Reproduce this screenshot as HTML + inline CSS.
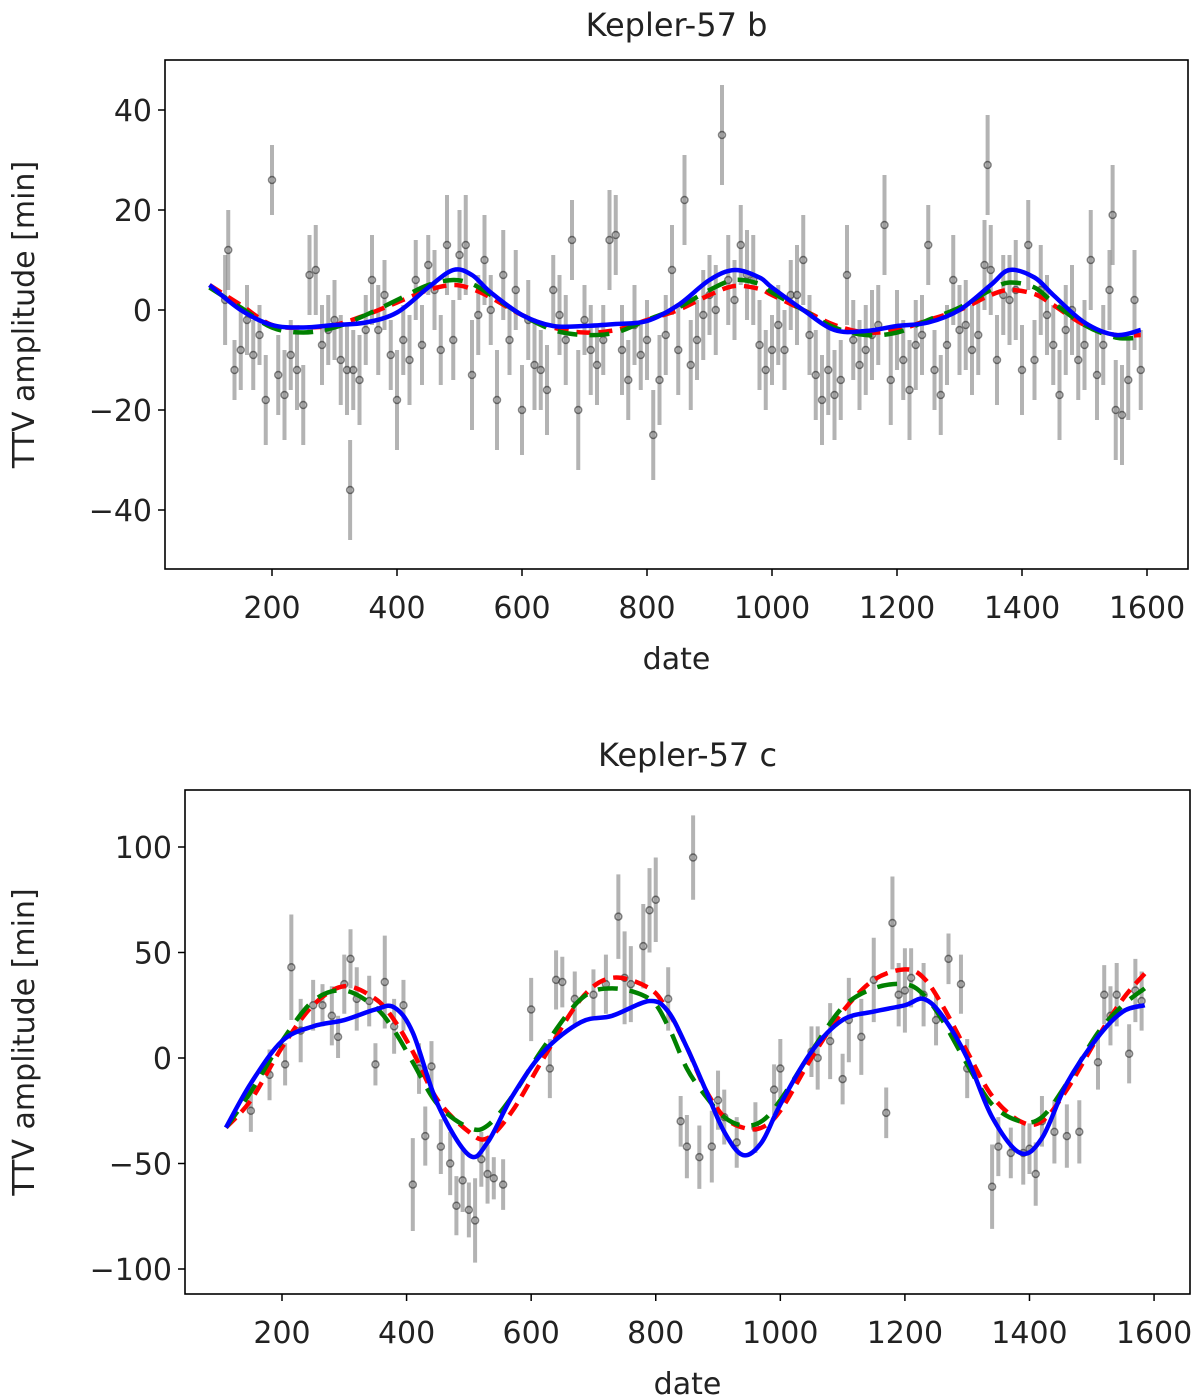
<!DOCTYPE html>
<html><head><meta charset="utf-8">
<style>
html,body{margin:0;padding:0;background:#fff;}
svg{display:block;font-family:"DejaVu Sans","Liberation Sans",sans-serif;}
</style></head>
<body>
<svg id="fig" width="1200" height="1399" viewBox="0 0 1200 1399" xmlns="http://www.w3.org/2000/svg"></svg>
<script>
// ---------- Kepler-57 b data ----------
const bDates = [125,130,140,150,160,170,180,190,200,210,220,230,240,250,260,270,280,290,300,310,320,325,330,340,350,360,370,380,390,400,410,420,430,440,450,460,470,480,490,500,510,520,530,540,550,560,570,580,590,600,610,620,630,640,650,660,670,680,690,700,710,720,730,740,750,760,770,780,790,800,810,820,830,840,850,860,870,880,890,900,910,920,930,940,950,960,970,980,990,1000,1010,1020,1030,1040,1050,1060,1070,1080,1090,1100,1110,1120,1130,1140,1150,1160,1170,1180,1190,1200,1210,1220,1230,1240,1250,1260,1270,1280,1290,1300,1310,1320,1330,1340,1345,1350,1360,1370,1380,1390,1400,1410,1420,1430,1440,1450,1460,1470,1480,1490,1500,1510,1520,1530,1540,1545,1550,1560,1570,1580,1590];
const bTTV = [2,12,-12,-8,-2,-9,-5,-18,26,-13,-17,-9,-12,-19,7,8,-7,-4,-2,-10,-12,-36,-12,-14,-4,6,-4,3,-9,-18,-6,-10,6,-7,9,4,-8,13,-6,11,13,-13,-1,10,0,-18,7,-6,4,-20,-2,-11,-12,-16,4,-1,-6,14,-20,-2,-8,-11,-6,14,15,-8,-14,-3,-9,-6,-25,-14,-5,8,-8,22,-11,-6,-1,3,0,35,6,2,13,7,6,-7,-12,-8,-3,-8,3,3,10,-5,-13,-18,-12,-17,-14,7,-6,-11,-8,-5,-3,17,-14,-4,-10,-16,-7,-5,13,-12,-17,-7,6,-4,-3,-8,-5,9,29,8,-10,3,2,4,-12,13,-10,4,-1,-7,-17,-4,0,-10,-7,10,-13,-7,4,19,-20,-21,-14,2,-12];
const bErr = [9,8,6,8,7,7,6,9,7,8,9,7,8,8,8,9,8,7,8,9,9,10,8,9,7,9,9,7,7,10,7,9,8,8,6,8,7,10,8,9,10,11,8,9,7,10,9,7,8,9,8,9,8,9,7,8,9,8,12,7,9,8,7,10,8,9,8,8,7,8,9,9,8,9,9,9,9,8,9,8,9,10,9,8,8,9,9,9,8,7,8,8,7,10,9,8,9,9,9,9,8,10,8,9,9,9,8,10,9,8,8,10,9,8,8,8,8,8,9,9,9,9,8,9,10,9,9,8,9,10,9,9,8,9,8,8,9,9,9,8,9,10,9,8,8,10,10,10,8,10,8];
const bModelDates = [100,150,200,250,300,350,400,450,490,520,550,600,650,700,750,800,850,900,940,980,1000,1050,1100,1150,1200,1250,1300,1350,1380,1420,1450,1500,1550,1590];
const bBlue  = [5,0,-3,-3.5,-3,-2.5,-0.5,4.5,8,7,3.5,-1,-3.2,-3.2,-2.8,-2.2,1,6,8,6.5,4.5,0,-4,-4.2,-3.2,-2.5,0,5,8,6.5,3,-2.5,-5,-4];
const bRed   = [5,1,-3,-3.5,-3,-1,1.5,4,5,4.2,2.5,-1,-3.5,-4.5,-4,-2,0,3,4.8,4.2,3,0,-3,-4.5,-4,-2,0,3,4,3.2,1,-3,-5,-5];
const bGreen = [4.5,0.5,-3.5,-4.5,-3.5,-1,2,5,6,5.2,3,-1,-4,-5,-4.5,-2,0.5,4,6,5.2,3.5,0,-3.5,-5,-4.5,-2,0.5,4,5.5,4.5,1.5,-3,-5.5,-5.5];
const bXTicks = [200,400,600,800,1000,1200,1400,1600];
const bYTicks = [40,20,0,-20,-40];

// ---------- Kepler-57 c data ----------
const cDates = [150,180,205,215,230,250,265,280,290,300,310,320,340,350,365,380,395,410,420,430,440,455,470,480,490,500,510,520,530,540,555,600,630,640,650,670,700,720,740,750,760,780,790,800,820,840,850,860,870,890,900,910,930,960,990,1000,1050,1060,1080,1100,1110,1130,1150,1170,1180,1190,1200,1210,1230,1250,1270,1290,1300,1340,1350,1370,1390,1400,1410,1420,1440,1460,1480,1510,1520,1530,1540,1560,1570,1580];
const cTTV = [-25,-8,-3,43,13,25,25,20,10,35,47,28,27,-3,36,15,25,-60,-5,-37,-4,-42,-50,-70,-58,-72,-77,-48,-55,-57,-60,23,-5,37,36,28,30,35,67,38,35,53,70,75,28,-30,-42,95,-47,-42,-20,-28,-40,-33,-15,-5,3,0,8,-10,18,10,37,-26,64,30,32,38,30,18,47,35,-5,-61,-42,-45,-45,-43,-55,-30,-35,-37,-35,-2,30,20,30,2,32,27];
const cErr = [10,12,10,25,15,12,10,14,10,14,14,15,12,10,22,13,12,22,12,14,12,13,15,14,15,13,20,13,14,10,12,15,14,14,12,13,12,14,20,22,18,20,20,20,15,12,15,20,15,17,14,13,12,12,12,14,12,15,18,12,20,18,20,12,22,15,20,14,15,12,12,14,14,20,14,12,15,12,15,12,15,15,15,13,14,14,15,14,15,14];
const cModelDates = [110,150,200,250,300,350,380,410,450,500,530,570,620,680,730,790,820,850,880,910,940,970,1000,1050,1100,1150,1200,1230,1260,1300,1340,1385,1420,1460,1510,1550,1585];
const cBlue  = [-33,-12,8,15,18,23,24,12,-22,-46,-40,-18,3,17,20,27,22,5,-15,-35,-46,-40,-22,3,18,22,25,28,20,0,-28,-45,-38,-12,10,22,25];
const cRed   = [-33,-20,5,25,34,28,18,3,-20,-35,-38,-25,0,28,38,33,22,5,-15,-28,-33,-33,-25,0,22,37,42,38,25,3,-18,-30,-30,-15,10,28,40];
const cGreen = [-33,-16,8,27,32,24,13,-2,-22,-33,-32,-18,5,28,33,28,15,-5,-18,-28,-32,-30,-20,3,24,33,35,30,18,-3,-22,-30,-28,-12,12,25,33];
const cXTicks = [200,400,600,800,1000,1200,1400,1600];
const cYTicks = [100,50,0,-50,-100];

const NS = "http://www.w3.org/2000/svg";
const fig = document.getElementById('fig');
function mk(tag, attrs, parent){ const e=document.createElementNS(NS,tag); for(const k in attrs) e.setAttribute(k,attrs[k]); (parent||fig).appendChild(e); return e; }

function smoothPath(pts){
  let d = `M${pts[0][0]},${pts[0][1]}`;
  for(let i=0;i<pts.length-1;i++){
    const p0=pts[Math.max(0,i-1)], p1=pts[i], p2=pts[i+1], p3=pts[Math.min(pts.length-1,i+2)];
    const c1x=p1[0]+(p2[0]-p0[0])/6, c1y=p1[1]+(p2[1]-p0[1])/6;
    const c2x=p2[0]-(p3[0]-p1[0])/6, c2y=p2[1]-(p3[1]-p1[1])/6;
    d += ` C${c1x},${c1y} ${c2x},${c2y} ${p2[0]},${p2[1]}`;
  }
  return d;
}

function panel(cfg){
  const g = mk('g',{});
  
  
  const X = d => cfg.xRef + (d - 200) * cfg.xk;
  const Y = v => cfg.yZero - v * cfg.yk;
  const clip = mk('clipPath',{id:cfg.name+'-clip'}, g);
  mk('rect',{x:cfg.L,y:cfg.T,width:cfg.R-cfg.L,height:cfg.B-cfg.T}, clip);
  const plot = mk('g',{'clip-path':`url(#${cfg.name}-clip)`}, g);
  for(let i=0;i<cfg.dates.length;i++){
    const x=X(cfg.dates[i]);
    const eb = mk('line',{x1:x,x2:x,y1:Y(cfg.vals[i]-cfg.errs[i]),y2:Y(cfg.vals[i]+cfg.errs[i]),stroke:'rgba(128,128,128,0.6)','stroke-width':4}, plot);
    
    
  }
  for(let i=0;i<cfg.dates.length;i++){
    const c = mk('circle',{cx:X(cfg.dates[i]),cy:Y(cfg.vals[i]),r:3.5,fill:'rgba(128,128,128,0.4)',stroke:'rgba(0,0,0,0.45)','stroke-width':1.5}, plot);
    
    
  }
  const curves = [
    [cfg.red,'#ff0000','14 8','model-red'],
    [cfg.green,'#008000','20 12','model-green'],
    [cfg.blue,'#0000ff','none','model-blue']];
  for(const [vals,col,dash,nm] of curves){
    const pts = cfg.mdates.map((d,i)=>[X(d),Y(vals[i])]);
    const p = mk('path',{d:smoothPath(pts),fill:'none',stroke:col,'stroke-width':4.5,'stroke-dasharray':dash}, plot);
    
    
  }
  const frame = mk('rect',{x:cfg.L,y:cfg.T,width:cfg.R-cfg.L,height:cfg.B-cfg.T,fill:'none',stroke:'#000','stroke-width':1.6}, g);
  
  
  for(const t of cfg.xt){
    const x=X(t);
    mk('line',{x1:x,x2:x,y1:cfg.B,y2:cfg.B+7,stroke:'#000','stroke-width':1.5}, g);
    const tx = mk('text',{x:x,y:cfg.B+49,'text-anchor':'middle','font-size':30,fill:'#222'}, g);
    tx.textContent = t;
    
    
  }
  for(const t of cfg.yt){
    const y=Y(t);
    mk('line',{x1:cfg.L-7,x2:cfg.L,y1:y,y2:y,stroke:'#000','stroke-width':1.5}, g);
    const tx = mk('text',{x:cfg.L-13,y:y+11,'text-anchor':'end','font-size':30,fill:'#222'}, g);
    tx.textContent = t < 0 ? '\u2212' + Math.abs(t) : t;
    
    
  }
  const title = mk('text',{x:(cfg.L+cfg.R)/2,y:cfg.T-24,'text-anchor':'middle','font-size':32,fill:'#222'}, g);
  title.textContent = cfg.title;
  
  
  const xl = mk('text',{x:(cfg.L+cfg.R)/2,y:cfg.B+100,'text-anchor':'middle','font-size':30,fill:'#222'}, g);
  xl.textContent = 'date';
  
  
  const yc=(cfg.T+cfg.B)/2;
  const yl = mk('text',{x:34,y:yc,'text-anchor':'middle','font-size':30,fill:'#222',transform:`rotate(-90 34 ${yc})`}, g);
  yl.textContent = 'TTV amplitude [min]';
  
  
}

panel({name:'kepler-57b-chart',title:'Kepler-57 b',L:165,R:1188,T:60,B:569,xRef:272,xk:0.625,yZero:310,yk:5,
  dates:bDates,vals:bTTV,errs:bErr,mdates:bModelDates,blue:bBlue,red:bRed,green:bGreen,xt:bXTicks,yt:bYTicks});
panel({name:'kepler-57c-chart',title:'Kepler-57 c',L:185,R:1190,T:790,B:1294,xRef:282,xk:0.6229,yZero:1058,yk:2.11,
  dates:cDates,vals:cTTV,errs:cErr,mdates:cModelDates,blue:cBlue,red:cRed,green:cGreen,xt:cXTicks,yt:cYTicks});
</script>
</body></html>
